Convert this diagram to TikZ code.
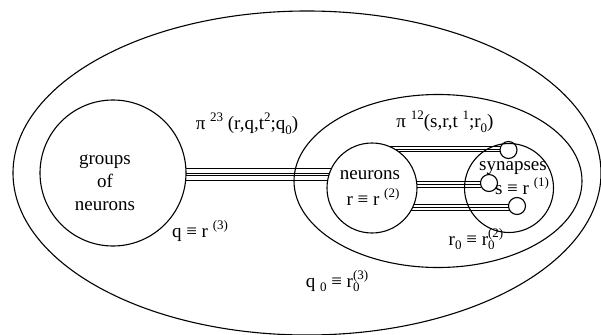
\documentclass[tikz,border=0pt]{standalone}
\usepackage{fontspec}
\setmainfont{Liberation Serif}
\usetikzlibrary{shapes.geometric}
\newcommand\sx[1]{\raisebox{8pt}{\fontsize{13}{13}\selectfont #1}}
\newcommand\bx[1]{\raisebox{-4.5pt}{\fontsize{13}{13}\selectfont #1}}
\newcommand\sbx[2]{\makebox[0pt][l]{\bx{#1}}\sx{#2}}
\begin{document}
\begin{tikzpicture}[x=1pt,y=-1pt]
\tikzset{
  region/.style={ellipse, draw, line width=1.1pt, inner sep=0pt, outer sep=0pt},
  blob/.style={circle, draw, line width=1.1pt, inner sep=0pt, outer sep=0pt},
  wire/.style={line width=0.75pt},
  lbl/.style={inner sep=0pt, font=\fontsize{19}{23}\selectfont, align=center},
}
\useasboundingbox (0,0) rectangle (601,334);
\node[region, minimum width=588pt, minimum height=324pt] (world) at (307,173) {};
\node[region, minimum width=288pt, minimum height=173pt] (nset) at (438,181) {};
\node[blob, minimum size=146pt] (grp) at (113,173) {};
\node[blob, minimum size=90pt] (neu) at (372,188) {};
\node[blob, minimum size=89pt] (syn) at (509,188) {};
\node[blob, minimum size=17pt] (s1) at (508.5,150) {};
\node[blob, minimum size=17pt] (s2) at (489,183) {};
\node[blob, minimum size=17pt] (s3) at (517,206) {};
% bundles
\foreach \a/\b in {4.32/152.91, 0.79/159.17, -2.75/165.19, -6.29/171.05}
  \draw[wire] (grp.\a) -- (grp.\a -| neu.\b);
\foreach \a/\b in {67.26/155.7, 60.07/173.2, 54.2/190.2}
  \draw[wire] (neu.\a) -- (neu.\a -| s1.\b);
\foreach \a/\b in {8.3/169.8, 5.1/186.75, 1.9/204.3}
  \draw[wire] (neu.\a) -- (neu.\a -| s2.\b);
\foreach \a/\b in {-22.9/176.6, -26.4/193.6, -30/212}
  \draw[wire] (neu.\a) -- (neu.\a -| s3.\b);
% labels
\node[lbl, font=\fontsize{19}{23}\selectfont] (tgrp) at (105,183) {groups\\of\\neurons};
\node[lbl] (tq) at (200,231) {q ≡ r \sx{(3)}};
\node[lbl] (tpi23) at (247,124) {π \sx{23} (r,q,t\sx{2};q\bx{0})};
\node[lbl] (tpi12) at (445,122) {π \sx{12}(s,r,t \sx{1};r\bx{0})};
\node[lbl] (tneu) at (370,175) {neurons};
\node[lbl] (tr) at (373,197) {r ≡ r \sx{(2)}};
\node[lbl] (tsyn) at (513,168) {synapses};
\node[lbl] (ts) at (522,186) {s ≡ r \sx{(1)}};
\node[lbl] (tr0) at (476,239) {r\bx{0} ≡ r\sbx{0}{(2)}};
\node[lbl] (tq0) at (337,281) {q \bx{0} ≡ r\sbx{0}{(3)}};
\end{tikzpicture}
\end{document}
